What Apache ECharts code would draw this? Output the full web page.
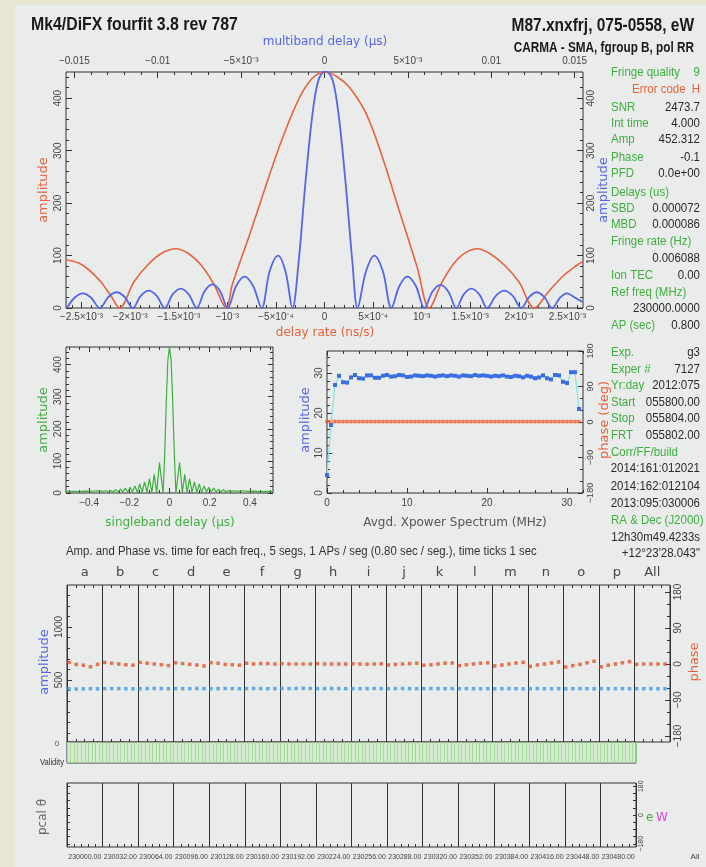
<!DOCTYPE html>
<html><head><meta charset="utf-8">
<script src="https://cdn.jsdelivr.net/npm/echarts@6/dist/echarts.min.js"></script>
<style>html,body{margin:0;padding:0;background:#e9ecea}#c{width:706px;height:867px}</style>
</head><body><div id="c"></div><script>
// ---------------- data ----------------
const rateX = [-0.00266,-0.0025,-0.00232,-0.00219,-0.00211,-0.00196,-0.00182,-0.00168,-0.00153,-0.0014,-0.00127,-0.00114,-0.00101,-0.00095,-0.00077,-0.0006,-0.00043,-0.00026,-0.00013,0,0.00013,0.00026,0.00043,0.0006,0.00077,0.00095,0.00108,0.0012,0.00132,0.00144,0.00157,0.0017,0.00185,0.002,0.00216,0.0023,0.00245,0.0026,0.00266];
const rateAmp = [92,83,54,21,0,50,82,104,113,104,82,46,0,44,140,235,325,400,437,450,441,420,370,285,185,80,0,46,82,104,113,104,82,50,0,30,60,82,89];
const mbdX = [-0.01545,-0.01497,-0.01449,-0.01401,-0.01347,-0.01296,-0.01246,-0.01198,-0.0115,-0.01102,-0.01054,-0.01006,-0.00958,-0.0091,-0.00862,-0.00814,-0.00766,-0.00719,-0.00671,-0.00626,-0.00581,-0.0053,-0.00479,-0.00428,-0.00377,-0.00329,-0.00278,-0.00234,-0.00192,-0.00156,-0.00114,-0.00072,-0.00036,0.00006,0.00048,0.00084,0.00126,0.00168,0.00198,0.00249,0.00299,0.0035,0.00401,0.00449,0.00497,0.00548,0.00599,0.00647,0.00695,0.00743,0.0079,0.00835,0.0088,0.00928,0.00976,0.01027,0.01078,0.01129,0.0118,0.01228,0.01272,0.01317,0.01365,0.01413,0.01455,0.015,0.01545];
const mbdAmp = [0,20,28,20,0,21,30,21,0,23,33,23,0,26,37,26,0,32,45,32,0,42,60,42,0,70,100,70,0,85,240,370,435,452,435,370,240,85,0,70,100,70,0,42,60,42,0,31,44,31,0,26,37,26,0,23,33,23,0,21,30,21,0,20,28,20,12];
const sbdX = [-0.515,-0.48,-0.45,-0.42,-0.39,-0.36,-0.335,-0.316,-0.304,-0.292,-0.28,-0.268,-0.256,-0.244,-0.232,-0.22,-0.208,-0.196,-0.184,-0.172,-0.16,-0.148,-0.136,-0.124,-0.112,-0.1,-0.088,-0.076,-0.064,-0.05,-0.032,-0.024,-0.016,-0.008,0,0.008,0.016,0.024,0.032,0.05,0.064,0.076,0.088,0.1,0.112,0.124,0.136,0.148,0.16,0.172,0.184,0.196,0.208,0.22,0.232,0.244,0.256,0.268,0.28,0.292,0.304,0.316,0.335,0.36,0.39,0.42,0.45,0.48,0.515];
const sbdAmp = [4,5,4,6,5,7,5,7,3,8,3,10,3,12,3,15,3,18,3,22,2,28,2,35,2,45,2,58,1,95,0,120,285,415,455,415,285,120,0,95,1,58,2,45,2,35,2,28,2,22,3,18,3,15,3,12,3,10,3,8,3,7,5,7,5,6,4,5,4];
const specFreq = [0,0.5,1,1.5,2,2.5,3,3.5,4,4.5,5,5.5,6,6.5,7,7.5,8,8.5,9,9.5,10,10.5,11,11.5,12,12.5,13,13.5,14,14.5,15,15.5,16,16.5,17,17.5,18,18.5,19,19.5,20,20.5,21,21.5,22,22.5,23,23.5,24,24.5,25,25.5,26,26.5,27,27.5,28,28.5,29,29.5,30,30.5,31,31.5];
const specAmp = [4.5,17,27,29.3,27.7,27.6,28.9,29.5,28.7,28.6,29.4,29.4,28.8,28.8,29.3,29.5,29.1,29.2,29.5,29.4,29.0,29.1,29.4,29.3,29.2,29.4,29.3,29.1,29.3,29.4,29.2,29.4,29.3,29.1,29.4,29.3,29.2,29.5,29.3,29.4,29.3,29.1,29.3,29.2,29.4,29.1,29.0,29.3,29.2,28.9,29.3,29.1,28.7,28.9,29.4,28.7,28.4,29.5,29.4,27.8,27.5,30.2,30.2,21];
const specPhase = [1,1,1,1,1,1,1,1,1,1,1,1,1,1,1,1,1,1,1,1,1,1,1,1,1,1,1,1,1,1,1,1,1,1,1,1,1,1,1,1,1,1,1,1,1,1,1,1,1,1,1,1,1,1,1,1,1,1,1,1,1,1,1,1];
const channels = ['a','b','c','d','e','f','g','h','i','j','k','l','m','n','o','p','All'];
const segPhase = [4,-1,-3,-7,-1, 4,2,0,-2,-3, 4,2,0,-2,-4, 3,1,-1,-2.5,-5, 3,2,-1,-2,-3, 2,0,1,1,0, 1,0,0,0,0, 1,0,0,0,0, 0.5,0,-0.5,0,0.5, -2.5,-1,0,1,2, -3,-2,0,2,2.5, -4,-2,0,2,3, -5,-2.5,0,2.5,4, -6,-2.5,0,2.5,5, -7.5,-4,-1,3,7, -7,-3,0,3,6, -1,0,0,0,0];
const segAmp = [416,415,417,418,417, 418,419,419,418,417, 418,419,420,419,418, 419,418,419,420,419, 418,419,420,419,418, 419,420,419,418,419, 420,419,420,421,420, 418,419,420,419,418, 417,418,419,420,419, 418,419,420,419,418, 419,420,419,418,419, 418,419,418,417,418, 417,418,419,418,417, 418,419,418,417,418, 417,418,419,418,417, 418,417,418,419,418, 418,418,419,418,418];
const validity = [1,1,1,1,1,1,1,1,1,1,1,1,1,1,1,1,1,1,1,1,1,1,1,1,1,1,1,1,1,1,1,1,1,1,1,1,1,1,1,1,1,1,1,1,1,1,1,1,1,1,1,1,1,1,1,1,1,1,1,1,1,1,1,1,1,1,1,1,1,1,1,1,1,1,1,1,1,1,1,1];
const chanFreqs = ['230000.00','230032.00','230064.00','230096.00','230128.00','230160.00','230192.00','230224.00','230256.00','230288.00','230320.00','230352.00','230384.00','230416.00','230448.00','230480.00'];
const rateTicks = [-0.0025,-0.002,-0.0015,-0.001,-0.0005,0,0.0005,0.001,0.0015,0.002,0.0025];
const rateTickLabels = ['−2.5×10⁻³','−2×10⁻³','−1.5×10⁻³','−10⁻³','−5×10⁻⁴','0','5×10⁻⁴','10⁻³','1.5×10⁻³','2×10⁻³','2.5×10⁻³'];
const mbdTicks = [-0.015,-0.01,-0.005,0,0.005,0.01,0.015];
const mbdTickLabels = ['−0.015','−0.01','−5×10⁻³','0','5×10⁻³','0.01','0.015'];
const ampTicks = [0,100,200,300,400];
const ampTickLabels = ['0','100','200','300','400'];
const sbdTicks = [-0.4,-0.2,0,0.2,0.4];
const sbdTickLabels = ['−0.4','−0.2','0','0.2','0.4'];
const specTicks = [0,10,20,30];
const specTickLabels = ['0','10','20','30'];
const phaseTicks = [-180,-90,0,90,180];
const phaseTickLabels = ['−180','−90','0','90','180'];
const segAmpTicks = [500,1000];
const segAmpTickLabels = ['500','1000'];
const pcalTicks = [-180,0,180];
const pcalTickLabels = ['−180','0','180'];
const infoRows = [
 ['Fringe quality','9',72,'g'],['Error code','H',89,'r'],['SNR','2473.7',107],['Int time','4.000',123],
 ['Amp','452.312',139],['Phase','-0.1',157],['PFD','0.0e+00',173],['Delays (us)','',192],
 ['SBD','0.000072',208],['MBD','0.000086',224],['Fringe rate (Hz)','',241],['','0.006088',258],
 ['Ion TEC','0.00',275],['Ref freq (MHz)','',292],['','230000.0000',308],['AP (sec)','0.800',325],
 ['Exp.','g3',352],['Exper #','7127',369],['Yr:day','2012:075',385],['Start','055800.00',402],
 ['Stop','055804.00',418],['FRT','055802.00',435],['Corr/FF/build','',452],['','2014:161:012021',468],
 ['','2014:162:012104',486],['','2013:095:030006',503],['RA & Dec (J2000)','',520],['','12h30m49.4233s',537],
 ['','+12°23\'28.043"',553]
];

// ---------------- styling helpers ----------------
const NARROW = '"Liberation Sans Narrow","Arial Narrow","Liberation Sans",sans-serif';
const SANS = '"DejaVu Sans","Liberation Sans",sans-serif';
const RED = '#e8623e', BLUE = '#5566e6', GREEN = '#3fae3f', DARK = '#2a2a2a', TICKC = '#333';
function lookup(vals, labs, v){ for (let i=0;i<vals.length;i++){ if (Math.abs(vals[i]-v) <= 1e-9 + Math.abs(vals[i])*1e-6) return labs[i]; } return ''; }
function range(a,b,step,scale){ const out=[]; for(let k=a;k<=b;k+=step) out.push(k*scale); return out; }
const xAxes=[], yAxes=[];
function ax(o){
  const a = {gridIndex:o.g, type:'value', position:o.pos, min:o.min, max:o.max,
    axisLine:{show:false,onZero:false}, splitLine:{show:false}, minorTick:{show:false}, silent:true,
    axisTick:{show: !!o.ticks, inside:true, length:o.len||5, lineStyle:{color:TICKC,width:1}, customValues:o.ticks},
    axisLabel:{show:false}};
  if (o.labels) a.axisLabel = {show:true, customValues:o.labelVals, formatter:(v)=>lookup(o.labelVals,o.labels,v),
    color:'#444', fontSize:o.fs||10, fontFamily:NARROW, margin:(o.margin==null?3:o.margin), rotate:o.rot||0,
    showMinLabel:true, showMaxLabel:true, hideOverlap:false};
  if (o.interval!=null){ a.interval=o.interval; }
  if (o.split){ a.splitLine={show:true, lineStyle:o.split}; }
  return a;
}
function addX(o){ xAxes.push(ax(o)); return xAxes.length-1; }
function addY(o){ yAxes.push(ax(o)); return yAxes.length-1; }
function catAxis(o){ return Object.assign({type:'category',boundaryGap:true,silent:true,
  axisLine:{show:false,onZero:false},axisTick:{show:false},splitLine:{show:false}},o); }

// grid 0 : main delay/rate plot
const xRate = addX({g:0,pos:'bottom',min:-0.00266,max:0.00266,ticks:rateTicks,labelVals:rateTicks,labels:rateTickLabels,len:6,fs:10,margin:4});
const xMbd  = addX({g:0,pos:'top',min:-0.0155,max:0.0155,ticks:mbdTicks,labelVals:mbdTicks,labels:mbdTickLabels,len:6,fs:10,margin:6});
addX({g:0,pos:'bottom',min:-0.00266,max:0.00266,ticks:range(-26,26,1,1e-4),len:3});
addX({g:0,pos:'top',min:-0.0155,max:0.0155,ticks:range(-15,15,1,1e-3),len:3});
const yAmpL = addY({g:0,pos:'left',min:0,max:450,ticks:ampTicks,labelVals:ampTicks,labels:ampTickLabels,len:6,rot:90,fs:10,margin:3});
const yAmpR = addY({g:0,pos:'right',min:0,max:450,ticks:ampTicks,labelVals:ampTicks,labels:ampTickLabels,len:6,rot:90,fs:10,margin:3});
addY({g:0,pos:'left',min:0,max:450,ticks:range(0,22,1,20),len:3});
addY({g:0,pos:'right',min:0,max:450,ticks:range(0,22,1,20),len:3});

// grid 1 : singleband delay
const xSbd = addX({g:1,pos:'bottom',min:-0.515,max:0.515,ticks:sbdTicks,labelVals:sbdTicks,labels:sbdTickLabels,len:5,fs:10,margin:5});
addX({g:1,pos:'top',min:-0.515,max:0.515,ticks:sbdTicks,len:5});
addX({g:1,pos:'bottom',min:-0.515,max:0.515,ticks:range(-10,10,1,0.05),len:3});
addX({g:1,pos:'top',min:-0.515,max:0.515,ticks:range(-10,10,1,0.05),len:3});
const ySbd = addY({g:1,pos:'left',min:0,max:455,ticks:ampTicks,labelVals:ampTicks,labels:ampTickLabels,len:5,rot:90,fs:10,margin:3});
addY({g:1,pos:'right',min:0,max:455,ticks:ampTicks,len:5});
addY({g:1,pos:'left',min:0,max:455,ticks:range(0,22,1,20),len:3});
addY({g:1,pos:'right',min:0,max:455,ticks:range(0,22,1,20),len:3});

// grid 2 : Xpower spectrum
const xSpec = addX({g:2,pos:'bottom',min:0,max:32,ticks:specTicks,labelVals:specTicks,labels:specTickLabels,len:5,fs:10,margin:5});
addX({g:2,pos:'top',min:0,max:32,ticks:specTicks,len:5});
addX({g:2,pos:'bottom',min:0,max:32,ticks:range(0,16,1,2),len:3});
addX({g:2,pos:'top',min:0,max:32,ticks:range(0,16,1,2),len:3});
const ySpecA = addY({g:2,pos:'left',min:0,max:35.5,ticks:specTicks,labelVals:specTicks,labels:specTickLabels,len:5,rot:90,fs:10,margin:3});
const ySpecP = addY({g:2,pos:'right',min:-180,max:180,ticks:phaseTicks,labelVals:phaseTicks,labels:phaseTickLabels,len:5,rot:90,fs:9,margin:3});
addY({g:2,pos:'left',min:0,max:35.5,ticks:range(0,17,1,2),len:3});
addY({g:2,pos:'right',min:-180,max:180,ticks:range(-6,6,1,30),len:3});

// grid 3 : amp & phase vs time per channel
const xSeg = addX({g:3,pos:'bottom',min:0,max:85,interval:5,split:{color:'#333',width:1}});
xAxes.push(catAxis({gridIndex:3,position:'top',data:channels,
  axisLabel:{interval:0,color:'#444',fontSize:13,fontFamily:SANS,margin:6}}));
addX({g:3,pos:'bottom',min:0,max:85,ticks:range(0,68,1,1.25),len:3});
addX({g:3,pos:'top',min:0,max:85,ticks:range(0,68,1,1.25),len:3});
const ySegA = addY({g:3,pos:'left',min:-85,max:1396,ticks:segAmpTicks,labelVals:segAmpTicks,labels:segAmpTickLabels,len:5,rot:90,fs:10,margin:3});
addY({g:3,pos:'left',min:-85,max:1396,ticks:range(0,13,1,100),len:3});
const ySegP = addY({g:3,pos:'right',min:-195,max:197.5,ticks:phaseTicks,labelVals:phaseTicks,labels:phaseTickLabels,len:5,rot:90,fs:10,margin:3});
addY({g:3,pos:'right',min:-195,max:197.5,ticks:range(-6,6,1,30),len:3});

// grid 4 : validity
xAxes.push(catAxis({gridIndex:4,position:'bottom',data:validity.map((_,i)=>String(i)),axisLabel:{show:false}}));
const xVal = xAxes.length-1;
addX({g:4,pos:'top',min:0,max:160,interval:1,split:{color:'#8ccb84',width:1}});
const yVal = addY({g:4,pos:'left',min:0,max:1});

// grid 5 : pcal
addX({g:5,pos:'bottom',min:0,max:80,interval:5,split:{color:'#333',width:1}});
addX({g:5,pos:'bottom',min:0,max:80,ticks:range(0,80,1,1),len:3});
xAxes.push(catAxis({gridIndex:5,position:'bottom',data:chanFreqs,
  axisLabel:{interval:0,color:'#444',fontSize:7,fontFamily:NARROW,margin:7,hideOverlap:false}}));
addY({g:5,pos:'right',min:-200,max:200,ticks:range(-4,4,1,45),labelVals:pcalTicks,labels:pcalTickLabels,len:3,rot:90,fs:7,margin:2});
addY({g:5,pos:'left',min:-200,max:200,ticks:range(-4,4,1,45),len:3});

// ---------------- text ----------------
function T(x,y,s,color,size,o){ o=o||{};
  return {type:'text',x:x,y:y,rotation:o.rot||0,scaleX:o.sx||1,silent:true,z:50,
    style:{text:s,fill:color,fontSize:size,fontFamily:o.family||NARROW,fontWeight:o.weight||'normal',
      align:o.align||'left',verticalAlign:o.va||'middle'}}; }
const graphics = [
  {type:'rect',shape:{x:0,y:0,width:15,height:867},style:{fill:'#e7e6d2'},z:-10,silent:true},
  {type:'rect',shape:{x:0,y:0,width:706,height:5},style:{fill:'#e7e6d2'},z:-10,silent:true},
  T(31,25,'Mk4/DiFX fourfit 3.8 rev 787','#1a1a1a',18,{weight:'bold',sx:0.88}),
  T(694,26,'M87.xnxfrj, 075-0558, eW','#1a1a1a',18,{weight:'bold',align:'right',sx:0.86}),
  T(694,48,'CARMA - SMA, fgroup B, pol RR','#1a1a1a',14,{weight:'bold',align:'right',sx:0.84}),
  T(325,42,'multiband delay (μs)',BLUE,12,{family:SANS,align:'center'}),
  T(325,333,'delay rate (ns/s)',RED,12,{family:SANS,align:'center'}),
  T(44,190,'amplitude',RED,13,{family:SANS,align:'center',rot:Math.PI/2}),
  T(604,190,'amplitude',BLUE,13,{family:SANS,align:'center',rot:Math.PI/2}),
  T(44,420,'amplitude',GREEN,13,{family:SANS,align:'center',rot:Math.PI/2}),
  T(170,523,'singleband delay (μs)',GREEN,12,{family:SANS,align:'center'}),
  T(306,420,'amplitude',BLUE,13,{family:SANS,align:'center',rot:Math.PI/2}),
  T(605,420,'phase (deg)',RED,13,{family:SANS,align:'center',rot:Math.PI/2}),
  T(455,523,'Avgd. Xpower Spectrum (MHz)','#555',12,{family:SANS,align:'center'}),
  T(66,552,'Amp. and Phase vs. time for each freq., 5 segs, 1 APs / seg (0.80 sec / seg.), time ticks 1 sec','#333',12,{sx:0.95}),
  T(45,662,'amplitude',BLUE,13,{family:SANS,align:'center',rot:Math.PI/2}),
  T(695,662,'phase',RED,13,{family:SANS,align:'center',rot:Math.PI/2}),
  T(64,763,'Validity','#333',9,{align:'right',sx:0.85}),
  T(57,744,'0','#555',8,{align:'center'}),
  T(43,817,'pcal θ','#666',12,{family:SANS,align:'center',rot:Math.PI/2}),
  T(646,818,'e',GREEN,12,{family:SANS}),
  T(656,818,'W','#e044e0',12,{family:SANS}),
  T(695,857,'All','#444',8,{align:'center'})
];
infoRows.forEach(r=>{
  const lc = r[3]==='r'?RED:GREEN;
  const vc = r[3]==='r'?RED:(r[3]==='g'?GREEN:DARK);
  if (r[0]) graphics.push(T(r[3]==='r'?632:611,r[2],r[0],lc,13.5,{sx:0.85}));
  if (r[1]) graphics.push(T(700,r[2],r[1],vc,13.5,{align:'right',sx:0.85}));
});

// ---------------- series ----------------
const series = [
  {type:'line',xAxisIndex:xRate,yAxisIndex:yAmpL,data:rateX.map((x,i)=>[x,rateAmp[i]]),smooth:0.35,showSymbol:false,
   lineStyle:{color:RED,width:1.6},silent:true,z:3},
  {type:'line',xAxisIndex:xMbd,yAxisIndex:yAmpR,data:mbdX.map((x,i)=>[x,mbdAmp[i]]),smooth:0.35,showSymbol:false,
   lineStyle:{color:BLUE,width:1.8},silent:true,z:4},
  {type:'line',xAxisIndex:xSbd,yAxisIndex:ySbd,data:sbdX.map((x,i)=>[x,sbdAmp[i]]),showSymbol:false,
   lineStyle:{color:GREEN,width:1.2},silent:true},
  {type:'line',xAxisIndex:xSpec,yAxisIndex:ySpecA,data:specFreq.map((x,i)=>[x,specAmp[i]]),symbol:'rect',symbolSize:4,
   itemStyle:{color:'#3a6fe2'},lineStyle:{color:'#86e2e2',width:1.2},silent:true,z:4},
  {type:'scatter',xAxisIndex:xSpec,yAxisIndex:ySpecP,data:specFreq.map((x,i)=>[x,specPhase[i]]),symbol:'rect',symbolSize:[3.5,3.5],
   itemStyle:{color:'#f05a28'},silent:true,z:3},
  {type:'scatter',xAxisIndex:xSeg,yAxisIndex:ySegP,data:segPhase.map((v,i)=>[i+0.3,v]),symbol:'rect',symbolSize:[3.5,3.5],
   itemStyle:{color:'#e4532a'},silent:true},
  {type:'scatter',xAxisIndex:xSeg,yAxisIndex:ySegA,data:segAmp.map((v,i)=>[i+0.3,v]),symbol:'rect',symbolSize:[3.5,3.5],
   itemStyle:{color:'#3d9ae8'},silent:true},
  {type:'bar',xAxisIndex:xVal,yAxisIndex:yVal,data:validity,barWidth:'100%',barCategoryGap:0,
   itemStyle:{color:'rgba(196,236,184,0.5)'},silent:true}
];

const gridBase = {show:true,borderColor:'#333',borderWidth:1,backgroundColor:'transparent',containLabel:false};
const chart = echarts.init(document.getElementById('c'),null,{renderer:'canvas'});
chart.setOption({
  backgroundColor:'#e9ecea',
  animation:false,
  grid:[
    Object.assign({left:66,top:72,width:517,height:236},gridBase),
    Object.assign({left:66,top:347,width:207,height:146},gridBase),
    Object.assign({left:327,top:351,width:256,height:142},gridBase),
    Object.assign({left:67,top:585,width:603,height:157},gridBase),
    Object.assign({left:67,top:742,width:569,height:21},gridBase),
    Object.assign({left:67,top:783,width:569,height:64},gridBase)
  ],
  xAxis:xAxes, yAxis:yAxes, series:series, graphic:graphics
});
</script></body></html>
